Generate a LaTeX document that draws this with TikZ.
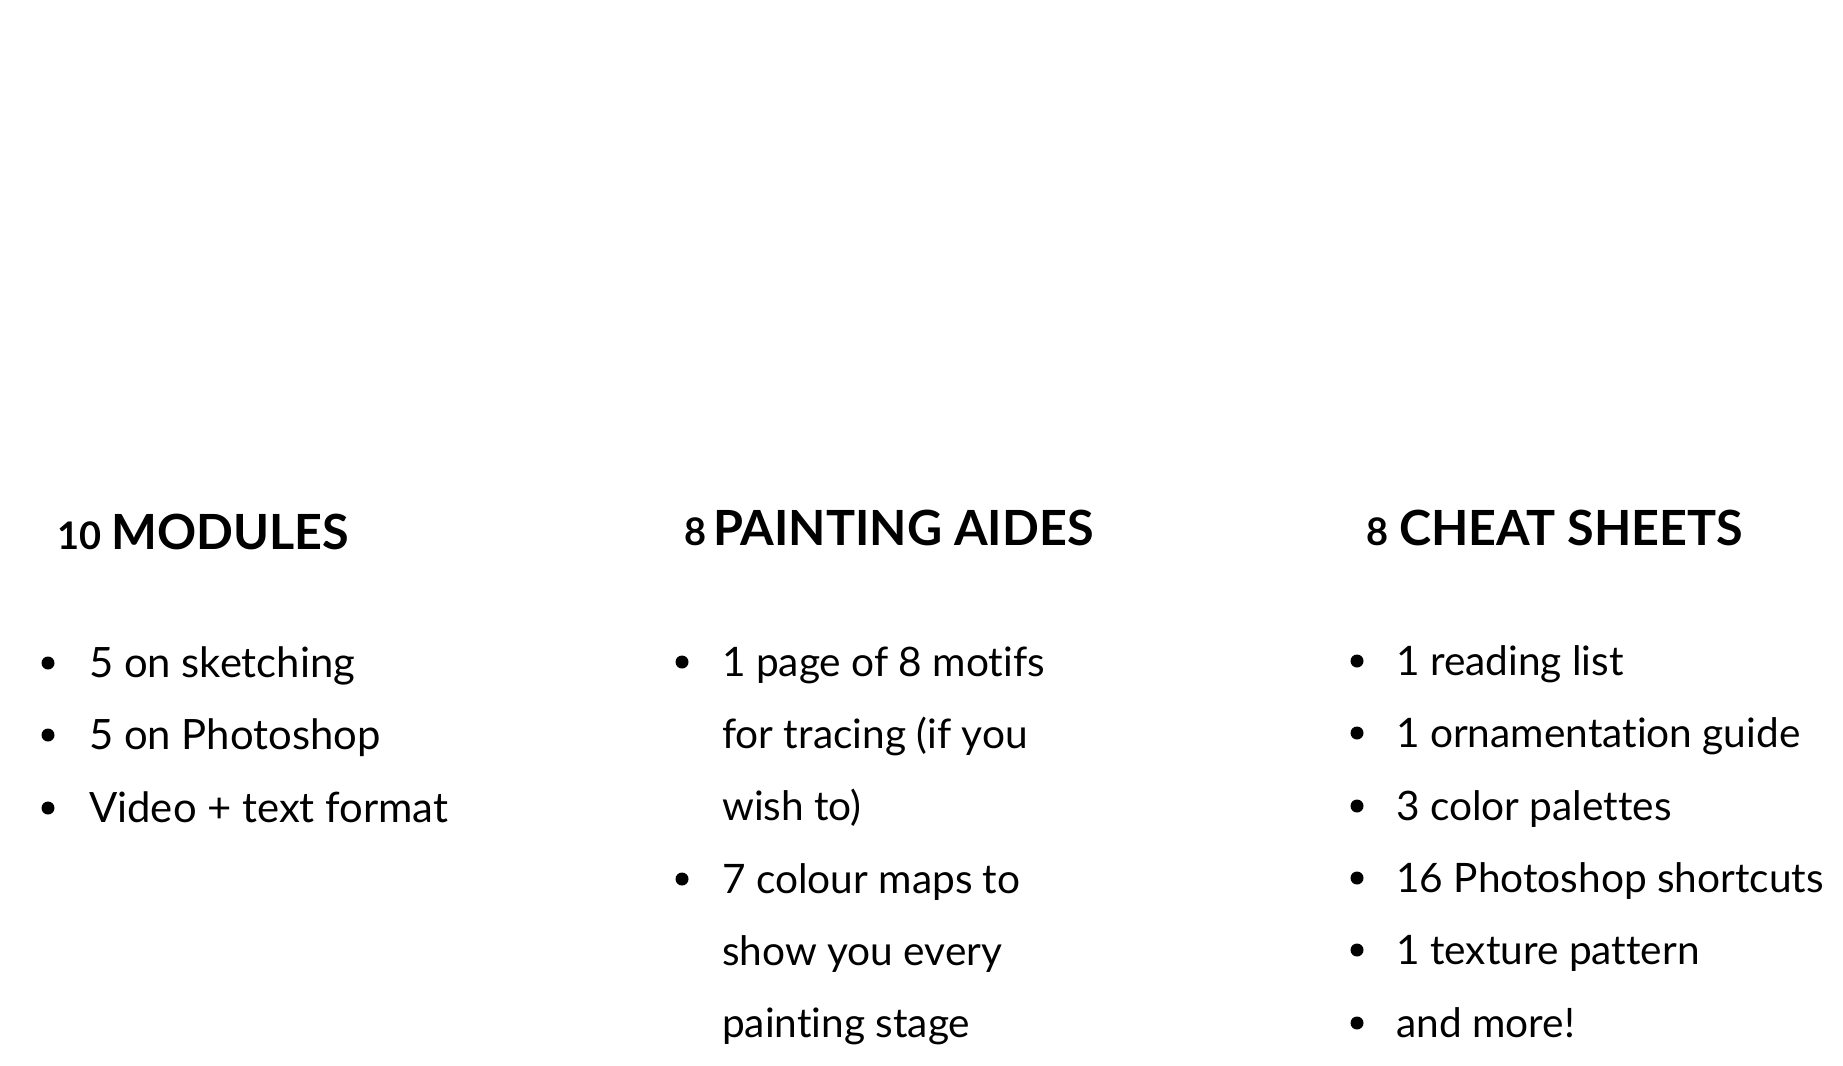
\documentclass[tikz,border=0pt]{standalone}
\usepackage{fontspec}
\setmainfont{Lato}[Ligatures={NoCommon}]
\tikzset{
  ttl/.style={anchor=base west, inner sep=0pt, font=\fontsize{48.5}{56}\selectfont\bfseries},
  num/.style={anchor=base west, inner sep=0pt, font=\fontsize{38}{42}\selectfont\bfseries},
  itm/.style={anchor=base west, inner sep=0pt, font=\fontsize{40.6}{46}\selectfont},
  itmw/.style={itm, font=\fontsize{41.8}{48}\selectfont},
  dot/.style={circle, fill=black, inner sep=0pt, minimum size=13pt},
}
\begin{document}
\begin{tikzpicture}[x=1pt,y=1pt]
\useasboundingbox (0,0) rectangle (1843,-1065);
\fill[white] (0,0) rectangle (1843,-1065);
% column 1
\node[num] (n1) at (57,-549) {10};
\node[ttl] (t1) at (111,-549) {MODULES};
\node[itmw] (a1) at (89,-677) {5 on sketching};
\node[itmw] (a2) at (89,-749) {5 on Photoshop};
\node[itmw] (a3) at (89,-822) {Video + text format};
\node[dot] (da1) at (48,-663) {};
\node[dot] (da2) at (48,-735) {};
\node[dot] (da3) at (48,-808) {};
% column 2
\node[num] (n2) at (684,-545) {8};
\node[ttl] (t2) at (713,-545) {PAINTING AIDES};
\node[itm] (b1) at (722,-676) {1 page of 8 motifs};
\node[itm] (b2) at (722,-748) {for tracing (if you};
\node[itm] (b3) at (722,-820) {wish to)};
\node[itm] (b4) at (722,-893) {7 colour maps to};
\node[itm] (b5) at (722,-965) {show you every};
\node[itm] (b6) at (722,-1037) {painting stage};
\node[dot] (db1) at (682,-662) {};
\node[dot] (db4) at (682,-879) {};
% column 3
\node[num] (n3) at (1366,-545) {8};
\node[ttl] (t3) at (1399,-545) {CHEAT SHEETS};
\node[itm] (c1) at (1396,-675) {1 reading list};
\node[itm] (c2) at (1396,-747) {1 ornamentation guide};
\node[itm] (c3) at (1396,-820) {3 color palettes};
\node[itm] (c4) at (1396,-892) {16 Photoshop shortcuts};
\node[itm] (c5) at (1396,-964) {1 texture pattern};
\node[itm] (c6) at (1396,-1037) {and more!};
\node[dot] (dc1) at (1357,-661) {};
\node[dot] (dc2) at (1357,-733) {};
\node[dot] (dc3) at (1357,-806) {};
\node[dot] (dc4) at (1357,-878) {};
\node[dot] (dc5) at (1357,-950) {};
\node[dot] (dc6) at (1357,-1023) {};
\end{tikzpicture}
\end{document}
